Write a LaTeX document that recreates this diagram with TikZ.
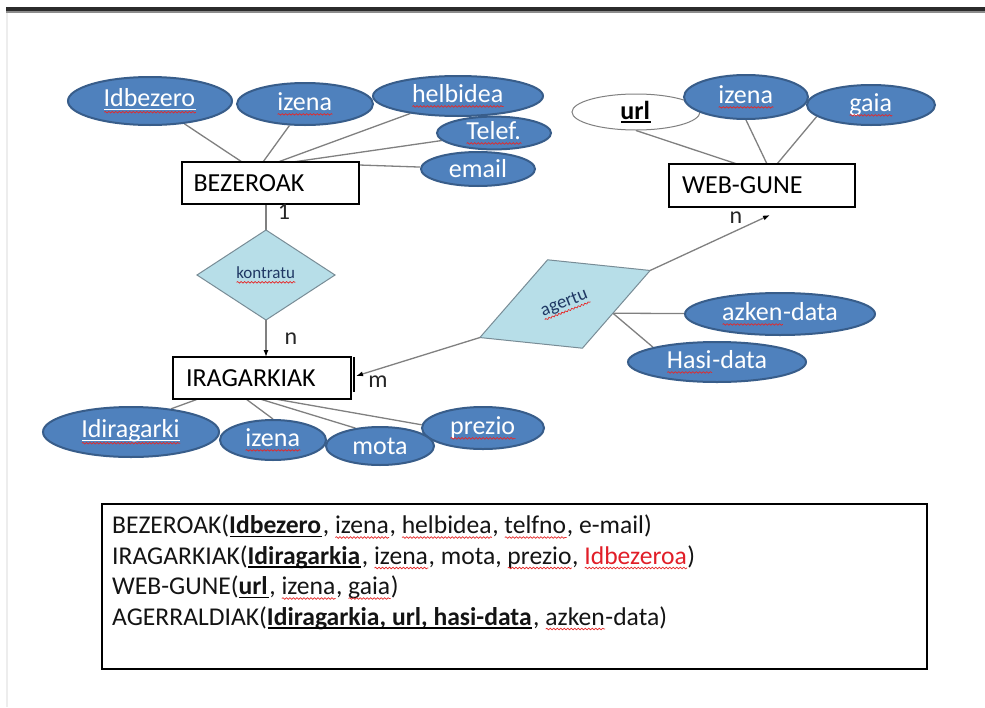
\documentclass[tikz,border=0pt]{standalone}
\usepackage{fontspec}
\setmainfont{Carlito}
\usetikzlibrary{shapes.geometric,calc,arrows.meta,decorations.pathmorphing}
\pgfdeclarelayer{bg}
\pgfsetlayers{bg,main}

\definecolor{ellfill}{RGB}{79,129,189}
\definecolor{elldraw}{RGB}{56,93,138}
\definecolor{relfill}{RGB}{183,222,232}
\definecolor{reldraw}{RGB}{120,140,150}
\definecolor{navy}{RGB}{31,56,100}
\definecolor{sqred}{RGB}{230,40,40}
\definecolor{keyred}{RGB}{225,30,40}
\definecolor{linegray}{RGB}{128,128,128}

\newlength\sqlen
\tikzset{squig/.style={draw=sqred, line width=0.7pt, decorate, decoration={snake, amplitude=0.8pt, segment length=3.5pt}}}
% red wavy spell-check underline
\newcommand\sq[1]{\settowidth\sqlen{#1}\rlap{#1}\tikz[baseline=0pt]{\path[squig] (0pt,-4pt) -- (\sqlen,-4pt);}}
% white underline + red wavy underline
\newcommand\usq[1]{\settowidth\sqlen{#1}\rlap{#1}\tikz[baseline=0pt]{\path[draw=white, line width=1.2pt] (0pt,-3pt) -- (\sqlen,-3pt); \path[squig] (0pt,-5.5pt) -- (\sqlen,-5.5pt);}}
% black key underline
\newcommand\kul[1]{\settowidth\sqlen{#1}\rlap{#1}\tikz[baseline=0pt]{\path[draw=black, line width=1.6pt] (0pt,-3pt) -- (\sqlen,-3pt);}}

\begin{document}
\begin{tikzpicture}[x=1pt,y=-1pt,
  font=\fontsize{26}{30}\selectfont,
  ell/.style={ellipse, draw=elldraw, fill=ellfill, line width=2pt, text=white, inner sep=0pt},
  ent/.style={rectangle, draw=black, fill=white, line width=2.6pt, inner ysep=0pt, align=left, outer sep=0pt},
  rel/.style={diamond, draw=reldraw, fill=relfill, line width=1pt, inner sep=0pt, text=navy, outer sep=0pt},
  con/.style={draw=linegray, line width=1.3pt},
  arr/.style={con, -{Latex[length=7pt,width=5pt,color=black]}},
  card/.style={font=\fontsize{24}{26}\selectfont, text=black!85, inner sep=0pt},
  txt/.style={anchor=base west, inner sep=0pt, text=black!92, font=\fontsize{25.6}{30}\selectfont}
]
\useasboundingbox (0,0) rectangle (985,707);
\begin{pgfonlayer}{bg}
\fill[white] (0,0) rectangle (985,707);
\fill[black!83] (6,7) rectangle (985,11);
\fill[black!45] (6,11) rectangle (985,12.5);
\fill[black!7] (6,12.5) rectangle (7.5,707);
\end{pgfonlayer}

% entities
\node[ent, minimum height=42pt, text width=154pt, inner xsep=11.5pt] (bez) at (270.5,183) {BEZEROAK};
\node[ent, minimum height=43pt, text width=160pt, inner xsep=13pt] (web) at (762,185.5) {WEB-GUNE};
\node[ent, minimum height=42pt, text width=152pt, inner xsep=13pt] (ir) at (262,378) {IRAGARKIAK};
\draw[black, line width=1.5pt] ($(ir.north east)+(3,0)$) -- ($(ir.south east)+(3,-7)$);

% relationships
\node[rel, minimum width=138pt, minimum height=90pt, font=\fontsize{17}{19}\selectfont] (kon) at (266,275) {\sq{kontratu}};
\node[rel, minimum width=183pt, minimum height=95pt, rotate=21.5, font=\fontsize{18.5}{20}\selectfont] (ag) at (565,304) {\sq{agertu}};

% attributes of BEZEROAK
\node[ell, minimum width=164pt, minimum height=48pt] (eidb) at (150,101) {\usq{Idbezero}};
\node[ell, minimum width=136pt, minimum height=42pt] (eiza) at (305,104) {\sq{izena}};
\node[ell, minimum width=170pt, minimum height=40pt] (ehel) at (458,96) {\sq{helbidea}};
\node[ell, minimum width=114pt, minimum height=32pt] (etel) at (494,133) {\sq{Telef.}};
\node[ell, minimum width=114pt, minimum height=34pt] (email) at (478,169) {email};

% attributes of WEB-GUNE
\node[ell, fill=white, draw=linegray, line width=1pt, text=black, minimum width=128pt, minimum height=36pt] (eurl) at (636,112) {\kul{\textbf{url}}};
\node[ell, minimum width=124pt, minimum height=44pt] (eizb) at (746,97) {\sq{izena}};
\node[ell, minimum width=128pt, minimum height=40pt] (egaia) at (871,105) {\sq{gaia}};

% attributes of agertu
\node[ell, minimum width=190pt, minimum height=42pt] (eazk) at (780,314) {\sq{azken}-data};
\node[ell, minimum width=178pt, minimum height=40pt] (ehasi) at (717,362) {\sq{Hasi}-data};

% attributes of IRAGARKIAK
\node[ell, minimum width=176pt, minimum height=50pt] (eidi) at (131,432) {\usq{Idiragarki}};
\node[ell, minimum width=122pt, minimum height=42pt] (eprez) at (483,428) {\sq{prezio}};
\node[ell, minimum width=106pt, minimum height=40pt] (eizc) at (273,440) {\sq{izena}};
\node[ell, minimum width=108pt, minimum height=38pt] (emota) at (380,446) {mota};

% cardinalities
\node[card] (c1) at (284,212) {1};
\node[card] (cn1) at (291,339) {n};
\node[card] (cm) at (378,382) {m};
\node[card] (cn2) at (736,218) {n};

% connectors
\coordinate (b1) at ($(bez.north west)+(60,0)$);
\coordinate (b2) at ($(bez.north west)+(81,0)$);
\coordinate (b3) at ($(bez.north west)+(96,0)$);
\coordinate (b4) at ($(bez.north west)+(111,0)$);
\coordinate (b5) at ($(bez.north east)+(0,3)$);
\coordinate (w1) at ($(web.north west)+(68,0)$);
\coordinate (w2) at ($(web.north west)+(98,0)$);
\coordinate (w3) at ($(web.north west)+(108,0)$);
\coordinate (i1) at ($(ir.south west)+(25,0)$);
\coordinate (i2) at ($(ir.south west)+(73,0)$);
\coordinate (i3) at ($(ir.south west)+(87,0)$);
\coordinate (i4) at ($(ir.south west)+(102,0)$);
\coordinate (irm) at ($(ir.east)+(5,-2)$);
\coordinate (wn) at ($(web.south)+(8,8)$);
\coordinate (agp) at ($(ag.east)!0.55!(ag.south)$);

\begin{pgfonlayer}{bg}
\draw[con] (eidb) -- (b1);
\draw[con] (eiza) -- (b2);
\draw[con] (ehel) -- (b3);
\draw[con] (etel) -- (b4);
\draw[con] (b5) -- (email);
\draw[con] (eurl.south) -- (w1);
\draw[con] (eizb.south) -- (w2);
\draw[con] (egaia.192) -- (w3);
\draw[con] (eidi.30) -- (i1);
\draw[con] (eizc.north) -- (i2);
\draw[con] (emota.144) -- (i3);
\draw[con] (eprez.177) -- (i4);
\draw[con] (agp) -- (eazk);
\draw[con] (agp) -- (ehasi.167);
\draw[con] (kon.north) -- (kon.north |- bez.south);
\end{pgfonlayer}
\draw[arr] (kon.south) -- (kon.south |- ir.north);
\draw[arr] (ag.west) -- (irm);
\draw[arr] (ag.east) -- (wn);

% relational schema
\node[draw=black, line width=2.6pt, minimum width=825pt, minimum height=165pt, inner sep=0pt] (tb) at (514.5,586.5) {};
\node[txt] (l1) at (112,533.5) {BEZEROAK(\kul{\textbf{Idbezero}}, \sq{izena}, \sq{helbidea}, \sq{telfno}, e-mail)};
\node[txt] (l2) at (112,564) {IRAGARKIAK(\kul{\textbf{Idiragarkia}}, \sq{izena}, mota, \sq{prezio}, \textcolor{keyred}{\sq{Idbezeroa}})};
\node[txt] (l3) at (112,594.5) {WEB-GUNE(\kul{\textbf{url}}, \sq{izena}, \sq{gaia})};
\node[txt] (l4) at (112,625) {AGERRALDIAK(\kul{\textbf{Idiragarkia, url, hasi-data}}, \sq{azken}-data)};
\end{tikzpicture}
\end{document}
